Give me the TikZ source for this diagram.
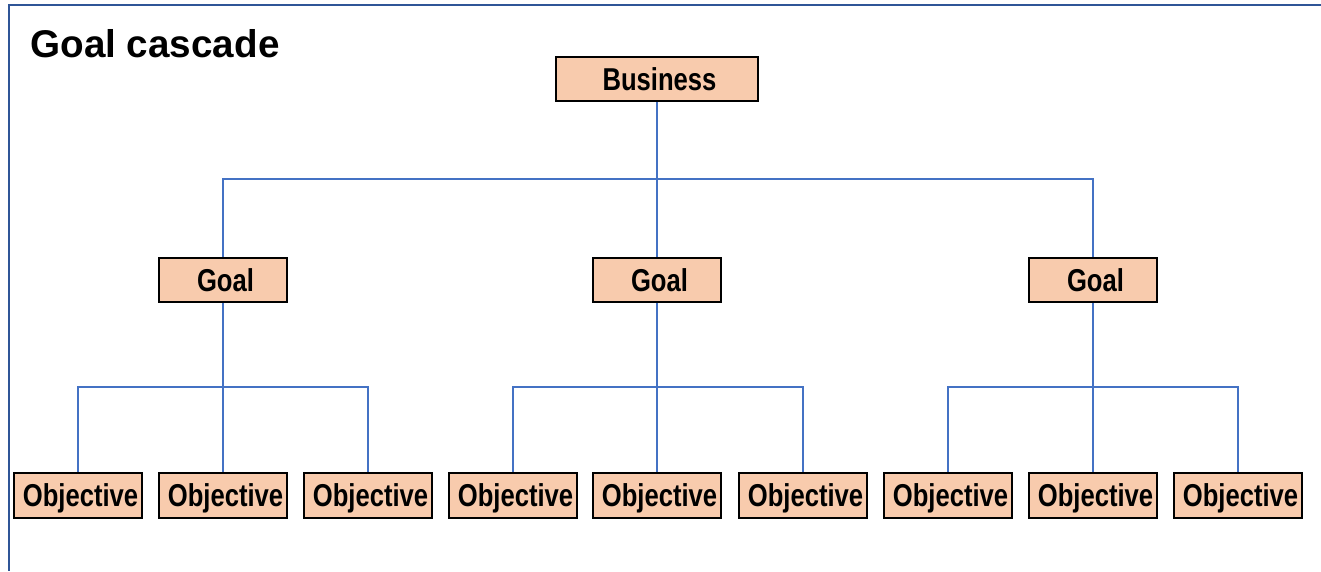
\documentclass[tikz,border=0pt]{standalone}
\usepackage{fontspec}
\setmainfont{Liberation Sans}
\newfontfamily\narrowfont{Liberation Sans}[FakeStretch=0.81]
\definecolor{boxfill}{HTML}{F8CBAD}
\definecolor{linkblue}{HTML}{4472C4}
\definecolor{frameblue}{HTML}{2F5597}
\tikzset{
  box/.style={draw=black, line width=0.9pt, fill=boxfill, inner sep=0pt,
    minimum width=2.56cm, minimum height=0.88cm, text height=13pt, text depth=0pt,
    execute at begin node=\hspace*{0.1cm},
    font=\narrowfont\bfseries\fontsize{18}{21}\selectfont},
  link/.style={draw=linkblue, line width=0.6pt}
}
\begin{document}
\begin{tikzpicture}
    \def\x{0.02}
    \def\y{-0.02}
    \useasboundingbox (0,0) rectangle (1321*\x, 571*\y);
    \draw [frameblue, line width=1.5pt] (1321*\x, 5*\y) -- (9*\x, 5*\y) -- (9*\x, 571*\y);
    \node [anchor=base west, inner sep=0pt, font=\bfseries\fontsize{22}{26}\selectfont]
      (T) at (30*\x, 57*\y) {Goal cascade};
    % top
    \node [box, minimum width=4.04cm] (A0_4) at (657*\x, 79*\y) {Business};
    % goals
    \node [box] (A1_1) at (223*\x, 280*\y) {Goal};
    \node [box] (A1_4) at (657*\x, 280*\y) {Goal};
    \node [box] (A1_7) at (1093*\x, 280*\y) {Goal};
    % objectives
    \node [box, minimum height=0.9cm] (A2_0) at (78*\x, 495.5*\y) {Objective};
    \node [box, minimum height=0.9cm] (A2_1) at (223*\x, 495.5*\y) {Objective};
    \node [box, minimum height=0.9cm] (A2_2) at (368*\x, 495.5*\y) {Objective};
    \node [box, minimum height=0.9cm] (A2_3) at (513*\x, 495.5*\y) {Objective};
    \node [box, minimum height=0.9cm] (A2_4) at (657*\x, 495.5*\y) {Objective};
    \node [box, minimum height=0.9cm] (A2_5) at (803*\x, 495.5*\y) {Objective};
    \node [box, minimum height=0.9cm] (A2_6) at (948*\x, 495.5*\y) {Objective};
    \node [box, minimum height=0.9cm] (A2_7) at (1093*\x, 495.5*\y) {Objective};
    \node [box, minimum height=0.9cm] (A2_8) at (1238*\x, 495.5*\y) {Objective};
    % branch points
    \coordinate (J0) at (657*\x, 179*\y);
    \coordinate (J1) at (223*\x, 387*\y);
    \coordinate (J4) at (657*\x, 387*\y);
    \coordinate (J7) at (1093*\x, 387*\y);
    \path [link] (A0_4) -- (J0) (J0) -| (A1_1) (J0) -- (A1_4) (J0) -| (A1_7);
    \path [link] (A1_1) -- (J1) (J1) -| (A2_0) (J1) -- (A2_1) (J1) -| (A2_2);
    \path [link] (A1_4) -- (J4) (J4) -| (A2_3) (J4) -- (A2_4) (J4) -| (A2_5);
    \path [link] (A1_7) -- (J7) (J7) -| (A2_6) (J7) -- (A2_7) (J7) -| (A2_8);
  \end{tikzpicture}
\end{document}
